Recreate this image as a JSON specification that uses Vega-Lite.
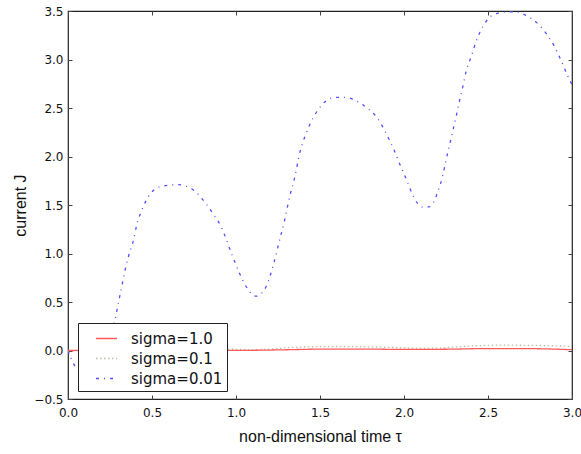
{
  "$schema": "https://vega.github.io/schema/vega-lite/v6.json",
  "width": 504,
  "height": 388,
  "autosize": "none",
  "padding": {"left": 68, "top": 11, "right": 9, "bottom": 55},
  "background": "white",
  "config": {
    "view": {"stroke": "#222", "strokeWidth": 1.2},
    "axis": {
      "labelFont": "DejaVu Sans",
      "labelFontSize": 12,
      "labelColor": "#111",
      "titleFont": "Liberation Sans",
      "titleFontSize": 16,
      "titleFontWeight": "normal",
      "titleColor": "#111",
      "grid": false,
      "domain": false,
      "tickColor": "#444",
      "tickSize": -4
    }
  },
  "data": {
    "values": [
      {"t": 0.00, "J": 0.00, "s": "sigma=0.01"},
      {"t": 0.02, "J": -0.09, "s": "sigma=0.01"},
      {"t": 0.05, "J": -0.18, "s": "sigma=0.01"},
      {"t": 0.09, "J": -0.22, "s": "sigma=0.01"},
      {"t": 0.13, "J": -0.18, "s": "sigma=0.01"},
      {"t": 0.18, "J": -0.05, "s": "sigma=0.01"},
      {"t": 0.23, "J": 0.12, "s": "sigma=0.01"},
      {"t": 0.28, "J": 0.32, "s": "sigma=0.01"},
      {"t": 0.30, "J": 0.49, "s": "sigma=0.01"},
      {"t": 0.32, "J": 0.66, "s": "sigma=0.01"},
      {"t": 0.34, "J": 0.83, "s": "sigma=0.01"},
      {"t": 0.36, "J": 0.97, "s": "sigma=0.01"},
      {"t": 0.39, "J": 1.14, "s": "sigma=0.01"},
      {"t": 0.41, "J": 1.30, "s": "sigma=0.01"},
      {"t": 0.44, "J": 1.45, "s": "sigma=0.01"},
      {"t": 0.48, "J": 1.59, "s": "sigma=0.01"},
      {"t": 0.55, "J": 1.69, "s": "sigma=0.01"},
      {"t": 0.65, "J": 1.71, "s": "sigma=0.01"},
      {"t": 0.75, "J": 1.65, "s": "sigma=0.01"},
      {"t": 0.80, "J": 1.56, "s": "sigma=0.01"},
      {"t": 0.86, "J": 1.42, "s": "sigma=0.01"},
      {"t": 0.91, "J": 1.28, "s": "sigma=0.01"},
      {"t": 0.98, "J": 0.97, "s": "sigma=0.01"},
      {"t": 1.02, "J": 0.80, "s": "sigma=0.01"},
      {"t": 1.06, "J": 0.66, "s": "sigma=0.01"},
      {"t": 1.12, "J": 0.56, "s": "sigma=0.01"},
      {"t": 1.18, "J": 0.66, "s": "sigma=0.01"},
      {"t": 1.22, "J": 0.87, "s": "sigma=0.01"},
      {"t": 1.26, "J": 1.14, "s": "sigma=0.01"},
      {"t": 1.29, "J": 1.35, "s": "sigma=0.01"},
      {"t": 1.32, "J": 1.59, "s": "sigma=0.01"},
      {"t": 1.35, "J": 1.79, "s": "sigma=0.01"},
      {"t": 1.38, "J": 2.04, "s": "sigma=0.01"},
      {"t": 1.42, "J": 2.25, "s": "sigma=0.01"},
      {"t": 1.46, "J": 2.40, "s": "sigma=0.01"},
      {"t": 1.51, "J": 2.53, "s": "sigma=0.01"},
      {"t": 1.59, "J": 2.61, "s": "sigma=0.01"},
      {"t": 1.65, "J": 2.61, "s": "sigma=0.01"},
      {"t": 1.72, "J": 2.57, "s": "sigma=0.01"},
      {"t": 1.78, "J": 2.50, "s": "sigma=0.01"},
      {"t": 1.84, "J": 2.40, "s": "sigma=0.01"},
      {"t": 1.89, "J": 2.25, "s": "sigma=0.01"},
      {"t": 1.94, "J": 2.07, "s": "sigma=0.01"},
      {"t": 1.98, "J": 1.90, "s": "sigma=0.01"},
      {"t": 2.02, "J": 1.74, "s": "sigma=0.01"},
      {"t": 2.05, "J": 1.61, "s": "sigma=0.01"},
      {"t": 2.11, "J": 1.48, "s": "sigma=0.01"},
      {"t": 2.15, "J": 1.48, "s": "sigma=0.01"},
      {"t": 2.20, "J": 1.63, "s": "sigma=0.01"},
      {"t": 2.23, "J": 1.80, "s": "sigma=0.01"},
      {"t": 2.25, "J": 1.96, "s": "sigma=0.01"},
      {"t": 2.27, "J": 2.11, "s": "sigma=0.01"},
      {"t": 2.29, "J": 2.26, "s": "sigma=0.01"},
      {"t": 2.31, "J": 2.41, "s": "sigma=0.01"},
      {"t": 2.33, "J": 2.57, "s": "sigma=0.01"},
      {"t": 2.35, "J": 2.72, "s": "sigma=0.01"},
      {"t": 2.37, "J": 2.88, "s": "sigma=0.01"},
      {"t": 2.40, "J": 3.03, "s": "sigma=0.01"},
      {"t": 2.43, "J": 3.19, "s": "sigma=0.01"},
      {"t": 2.47, "J": 3.34, "s": "sigma=0.01"},
      {"t": 2.53, "J": 3.46, "s": "sigma=0.01"},
      {"t": 2.61, "J": 3.49, "s": "sigma=0.01"},
      {"t": 2.67, "J": 3.49, "s": "sigma=0.01"},
      {"t": 2.72, "J": 3.46, "s": "sigma=0.01"},
      {"t": 2.79, "J": 3.38, "s": "sigma=0.01"},
      {"t": 2.85, "J": 3.26, "s": "sigma=0.01"},
      {"t": 2.90, "J": 3.12, "s": "sigma=0.01"},
      {"t": 2.94, "J": 2.97, "s": "sigma=0.01"},
      {"t": 2.98, "J": 2.81, "s": "sigma=0.01"},
      {"t": 3.00, "J": 2.74, "s": "sigma=0.01"},
      {"t": 0.0, "J": 0.000, "s": "sigma=0.1"},
      {"t": 0.1, "J": -0.003, "s": "sigma=0.1"},
      {"t": 0.2, "J": 0.002, "s": "sigma=0.1"},
      {"t": 0.3, "J": 0.010, "s": "sigma=0.1"},
      {"t": 0.4, "J": 0.019, "s": "sigma=0.1"},
      {"t": 0.5, "J": 0.024, "s": "sigma=0.1"},
      {"t": 0.6, "J": 0.026, "s": "sigma=0.1"},
      {"t": 0.7, "J": 0.025, "s": "sigma=0.1"},
      {"t": 0.8, "J": 0.022, "s": "sigma=0.1"},
      {"t": 0.9, "J": 0.017, "s": "sigma=0.1"},
      {"t": 1.0, "J": 0.012, "s": "sigma=0.1"},
      {"t": 1.1, "J": 0.009, "s": "sigma=0.1"},
      {"t": 1.2, "J": 0.014, "s": "sigma=0.1"},
      {"t": 1.3, "J": 0.028, "s": "sigma=0.1"},
      {"t": 1.4, "J": 0.036, "s": "sigma=0.1"},
      {"t": 1.5, "J": 0.040, "s": "sigma=0.1"},
      {"t": 1.6, "J": 0.041, "s": "sigma=0.1"},
      {"t": 1.7, "J": 0.040, "s": "sigma=0.1"},
      {"t": 1.8, "J": 0.037, "s": "sigma=0.1"},
      {"t": 1.9, "J": 0.033, "s": "sigma=0.1"},
      {"t": 2.0, "J": 0.027, "s": "sigma=0.1"},
      {"t": 2.1, "J": 0.022, "s": "sigma=0.1"},
      {"t": 2.2, "J": 0.025, "s": "sigma=0.1"},
      {"t": 2.3, "J": 0.036, "s": "sigma=0.1"},
      {"t": 2.4, "J": 0.047, "s": "sigma=0.1"},
      {"t": 2.5, "J": 0.053, "s": "sigma=0.1"},
      {"t": 2.6, "J": 0.055, "s": "sigma=0.1"},
      {"t": 2.7, "J": 0.054, "s": "sigma=0.1"},
      {"t": 2.8, "J": 0.052, "s": "sigma=0.1"},
      {"t": 2.9, "J": 0.048, "s": "sigma=0.1"},
      {"t": 3.0, "J": 0.042, "s": "sigma=0.1"},
      {"t": 0.0, "J": 0.000, "s": "sigma=1.0"},
      {"t": 0.25, "J": 0.002, "s": "sigma=1.0"},
      {"t": 0.5, "J": 0.005, "s": "sigma=1.0"},
      {"t": 0.75, "J": 0.004, "s": "sigma=1.0"},
      {"t": 1.0, "J": 0.001, "s": "sigma=1.0"},
      {"t": 1.25, "J": 0.006, "s": "sigma=1.0"},
      {"t": 1.5, "J": 0.014, "s": "sigma=1.0"},
      {"t": 1.75, "J": 0.015, "s": "sigma=1.0"},
      {"t": 2.0, "J": 0.011, "s": "sigma=1.0"},
      {"t": 2.25, "J": 0.013, "s": "sigma=1.0"},
      {"t": 2.5, "J": 0.020, "s": "sigma=1.0"},
      {"t": 2.75, "J": 0.019, "s": "sigma=1.0"},
      {"t": 3.0, "J": 0.008, "s": "sigma=1.0"}
    ]
  },
  "layer": [
    {
      "mark": {"type": "line", "strokeWidth": 1.3, "interpolate": "monotone", "clip": true},
      "encoding": {
        "x": {
          "field": "t", "type": "quantitative",
          "scale": {"domain": [0, 3], "nice": false, "zero": false},
          "axis": {"orient": "bottom", "values": [0, 0.5, 1, 1.5, 2, 2.5, 3], "format": ".1f", "labelPadding": 12, "title": "non-dimensional time τ", "titlePadding": 10, "labelFlush": false}
        },
        "y": {
          "field": "J", "type": "quantitative",
          "scale": {"domain": [-0.5, 3.5], "nice": false, "zero": false},
          "axis": {"orient": "left", "values": [-0.5, 0, 0.5, 1, 1.5, 2, 2.5, 3, 3.5], "format": ".1f", "labelPadding": 9, "title": "current J", "titlePadding": 5, "labelFlush": false}
        },
        "color": {
          "field": "s", "type": "nominal",
          "scale": {"domain": ["sigma=1.0", "sigma=0.1", "sigma=0.01"], "range": ["#ff5a5a", "#bdbda8", "#4f4fff"]},
          "legend": {
            "title": null,
            "orient": "none",
            "legendX": 10,
            "legendY": 312,
            "fillColor": "white",
            "strokeColor": "#222",
            "padding": 4,
            "symbolType": "stroke",
            "symbolSize": 441,
            "symbolStrokeWidth": 1.5,
            "symbolOffset": 13,
            "labelFont": "DejaVu Sans",
            "labelFontSize": 15,
            "labelColor": "#111",
            "labelOffset": 13,
            "rowPadding": 0
          }
        },
        "strokeDash": {
          "field": "s", "type": "nominal",
          "scale": {"domain": ["sigma=1.0", "sigma=0.1", "sigma=0.01"], "range": [[1, 0], [1.5, 2.5], [3, 5, 1, 5]]},
          "legend": null
        },
        "order": {"field": "t", "type": "quantitative"}
      }
    },
    {
      "mark": {"type": "line", "opacity": 0},
      "encoding": {
        "x": {"field": "t", "type": "quantitative", "scale": {"domain": [0, 3], "nice": false, "zero": false},
          "axis": {"orient": "top", "values": [0, 0.5, 1, 1.5, 2, 2.5, 3], "labels": false, "title": null}},
        "y": {"field": "J", "type": "quantitative", "scale": {"domain": [-0.5, 3.5], "nice": false, "zero": false},
          "axis": {"orient": "right", "values": [-0.5, 0, 0.5, 1, 1.5, 2, 2.5, 3, 3.5], "labels": false, "title": null}},
        "detail": {"field": "s"}
      }
    }
  ],
  "resolve": {"axis": {"x": "independent", "y": "independent"}}
}
